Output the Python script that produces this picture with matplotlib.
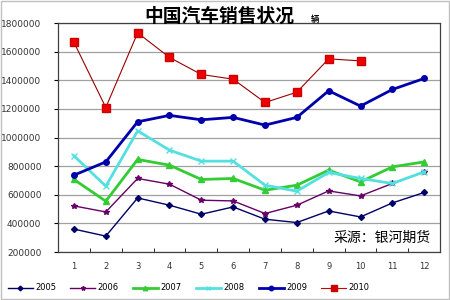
import matplotlib
matplotlib.use("Agg")
from matplotlib import pyplot as plt
import numpy as np

# ------------------------ data --------------------------------------
months = [1, 2, 3, 4, 5, 6, 7, 8, 9, 10, 11, 12]
month_labels = ["1", "2", "3", "4", "5", "6", "7", "8", "9", "10", "11", "12"]

sales_2005 = [360000, 311000, 578000, 527000, 464000, 515000,
              429000, 406000, 487000, 445000, 543000, 616000]
sales_2006 = [522000, 480000, 714000, 674000, 562000, 557000,
              469000, 527000, 627000, 592000, 679000, 760000]
sales_2007 = [707000, 555000, 847000, 807000, 707000, 714000,
              632000, 667000, 772000, 690000, 795000, 830000]
sales_2008 = [872000, 660000, 1047000, 912000, 835000, 835000,
              667000, 625000, 756000, 714000, 679000, 760000]
sales_2009 = [737000, 830000, 1110000, 1155000, 1124000, 1141000,
              1087000, 1141000, 1327000, 1220000, 1336000, 1413000]
sales_2010 = [1665000, 1210000, 1732000, 1560000, 1441000, 1408000,
              1245000, 1317000, 1550000, 1536000]

yticks = [200000, 400000, 600000, 800000, 1000000,
          1200000, 1400000, 1600000, 1800000]

plt.rcParams["font.family"] = ["Noto Sans CJK SC", "DejaVu Sans"]

fig = plt.figure(figsize=(4.5, 3.0), dpi=100)
fig.patch.set_facecolor("white")
ax = fig.add_axes([0.129, 0.16, 0.849, 0.763])

x = np.arange(1, 13)
series = [
    ("2005", sales_2005, "#000066", "D", 1.0, 3.0),
    ("2006", sales_2006, "#660066", "*", 1.0, 4.0),
    ("2007", sales_2007, "#33CC33", "^", 2.0, 4.0),
    ("2008", sales_2008, "#55E0E0", "x", 2.0, 4.0),
    ("2009", sales_2009, "#0000AA", "o", 2.0, 4.0),
    ("2010", sales_2010, "#CC0000", "s", 0.8, 5.5),
]
for label, vals, col, mk, lw, ms in series:
    xs = x[: len(vals)]
    if label == "2010":
        ax.plot(xs, vals, color="#990000", lw=lw, zorder=3)
        ax.plot(xs, vals, ls="none", marker=mk, ms=ms, color="#EE0000",
                markeredgecolor="#CC0000", zorder=4)
        ax.plot([], [], color="#CC0000", lw=lw, marker=mk, ms=ms, label=label)
    else:
        ax.plot(xs, vals, color=col, lw=lw, marker=mk, ms=ms,
                markeredgecolor=col, label=label, zorder=3)

ax.set_xlim(0.5, 12.5)
ax.set_ylim(200000, 1800000)
ax.set_yticks(yticks)
ax.set_yticklabels([str(v) for v in yticks], fontsize=6.5, color="#333333",
                   family="DejaVu Sans")
ax.set_xticks(months)
ax.set_xticklabels(month_labels, fontsize=6, color="#333333",
                   family="DejaVu Sans")
ax.tick_params(axis="x", length=0, pad=7)
ax.set_xticks(np.arange(0.5, 13, 1), minor=True)
ax.tick_params(axis="x", which="minor", direction="in", length=3)
ax.tick_params(axis="y", length=3, pad=9)
ax.grid(axis="y", color="#A0A0A0", lw=0.9)
ax.set_axisbelow(True)
for sp in ax.spines.values():
    sp.set_color("#404040")
    sp.set_linewidth(0.9)

fig.text(0.487, 0.945, "中国汽车销售状况", fontsize=13.5, fontweight="bold",
         ha="center", va="center")
fig.text(0.70, 0.935, "辆", fontsize=6, fontweight="bold",
         ha="center", va="center")
ax.text(0.975, 0.06, "采源：银河期货", transform=ax.transAxes, fontsize=10,
        ha="right", va="center")

fig.legend(loc="lower left", bbox_to_anchor=(0.0, 0.0), ncol=6, frameon=False,
           handlelength=3.0, handletextpad=0.3, columnspacing=1.7,
           markerscale=0.8, prop={"family": "DejaVu Sans", "size": 6})

border = plt.Rectangle((0.002, 0.003), 0.995, 0.993, transform=fig.transFigure,
                       fill=False, edgecolor="#C0C0C0", lw=1.0)
fig.patches.append(border)

fig.savefig("out.png", dpi=100)
